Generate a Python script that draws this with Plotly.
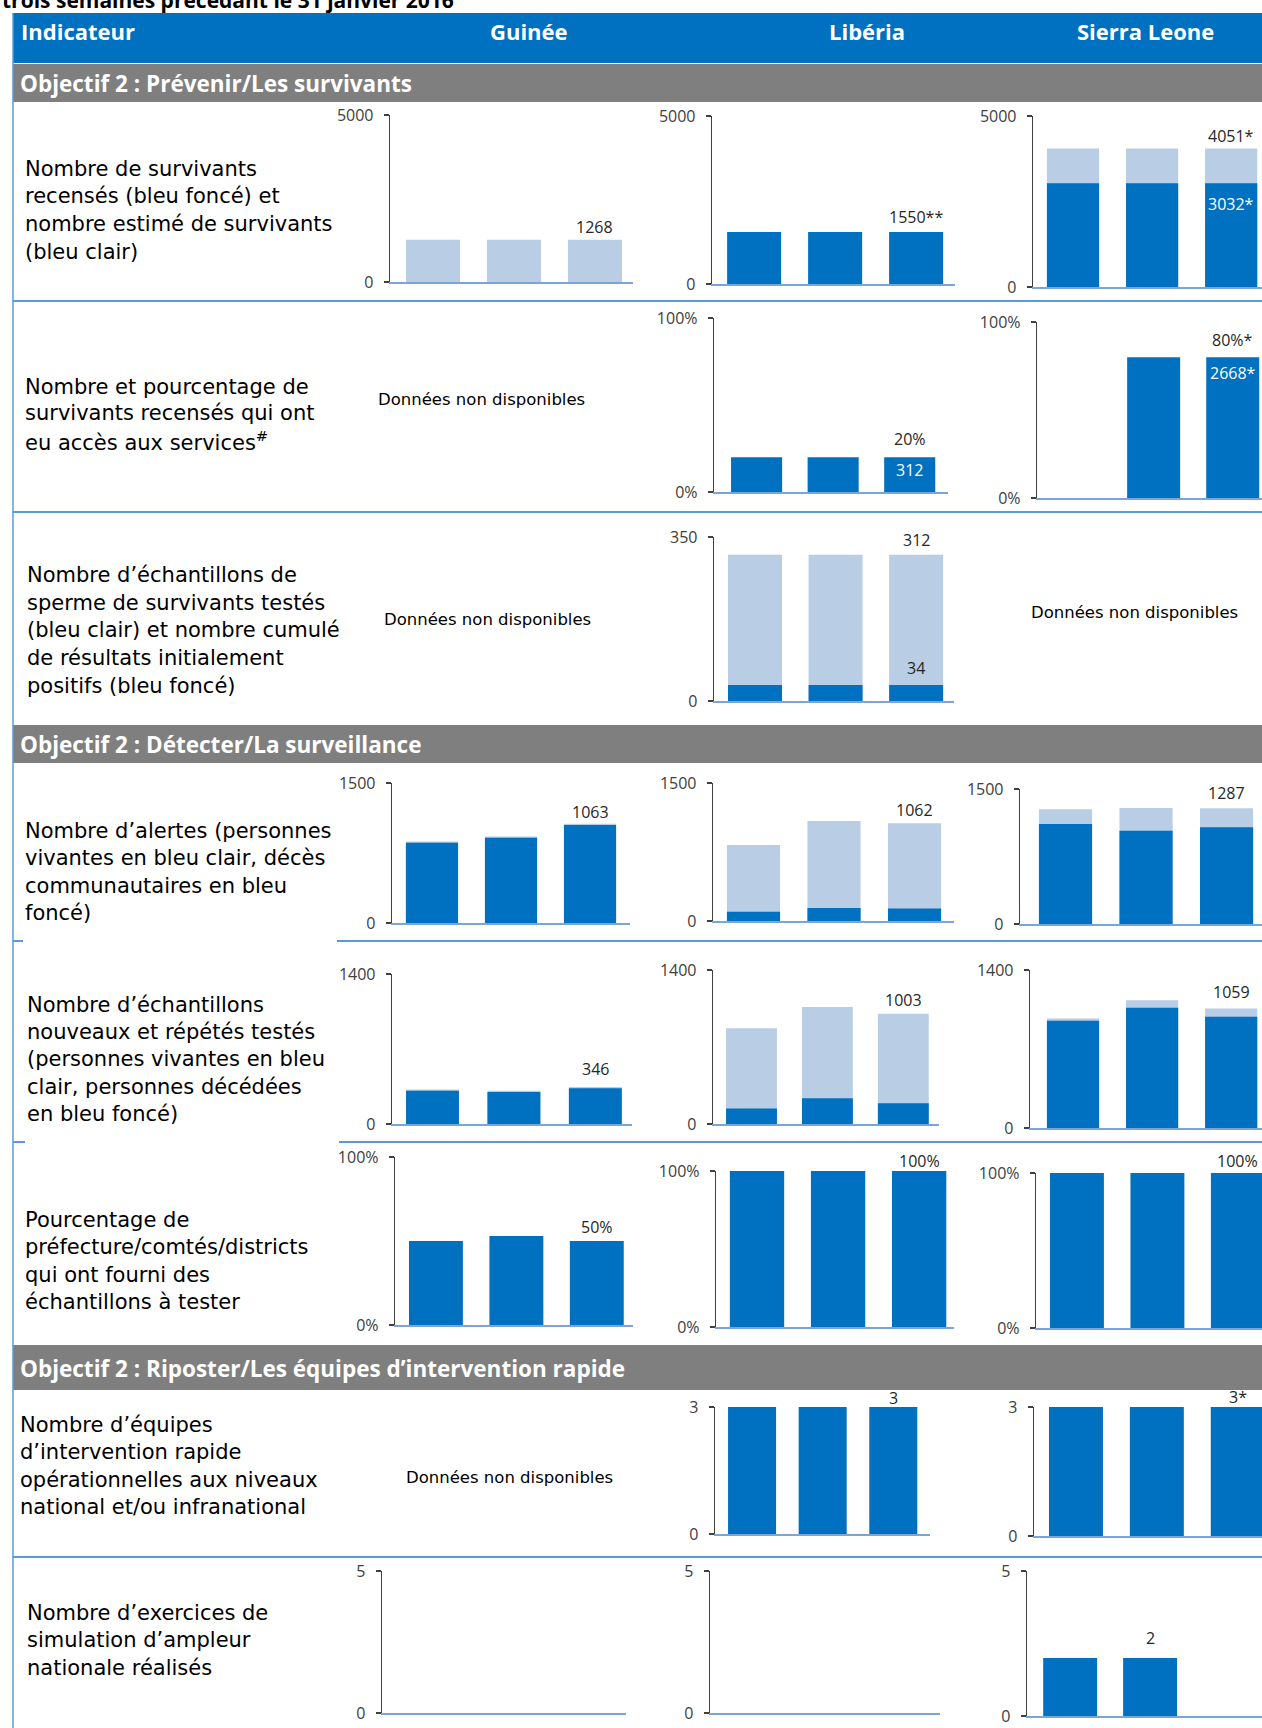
import plotly.graph_objects as go

W, H = 1262, 1728

# ---------------- data ----------------
semaines = ["S1", "S2", "S3"]
pays = ["Guinée", "Libéria", "Sierra Leone"]

# Objectif 2 : Prévenir/Les survivants
surv_estimes_gui = [1268, 1268, 1268]
surv_recenses_lib = [1550, 1550, 1550]
surv_estimes_sl = [4051, 4051, 4051]
surv_recenses_sl = [3032, 3032, 3032]

acces_pct_lib = [20, 20, 20]
acces_nombre_lib = 312
acces_pct_sl = [None, 80, 80]
acces_nombre_sl = 2668

sperme_testes_lib = [312, 312, 312]
sperme_positifs_lib = [34, 34, 34]

# Objectif 2 : Détecter/La surveillance
alertes_total_gui = [873, 926, 1063]
alertes_deces_gui = [861, 914, 1050]
alertes_total_lib = [826, 1087, 1062]
alertes_deces_lib = [100, 140, 135]
alertes_total_sl = [1275, 1289, 1287]
alertes_deces_sl = [1110, 1035, 1075]

echant_total_gui = [323, 311, 346]
echant_deces_gui = [311, 299, 334]
echant_total_lib = [870, 1063, 1003]
echant_deces_lib = [140, 235, 188]
echant_total_sl = [971, 1132, 1059]
echant_deces_sl = [951, 1065, 986]

districts_pct_gui = [50, 53, 50]
districts_pct_lib = [100, 100, 100]
districts_pct_sl = [100, 100, 100]

# Objectif 2 : Riposter/Les équipes d'intervention rapide
equipes_lib = [3, 3, 3]
equipes_sl = [3, 3, 3]

simulation_gui = [None, None, None]
simulation_lib = [None, None, None]
simulation_sl = [2, 2, None]

# axis maxima and tick labels
ymax_surv, ticks_surv = 5000, ["0", "5000"]
ymax_pct, ticks_pct = 100, ["0%", "100%"]
ymax_sperme, ticks_sperme = 350, ["0", "350"]
ymax_alertes, ticks_alertes = 1500, ["0", "1500"]
ymax_echant, ticks_echant = 1400, ["0", "1400"]
ymax_equipes, ticks_equipes = 3, ["0", "3"]
ymax_simul, ticks_simul = 5, ["0", "5"]

# ---------------- styles ----------------
DARK = "#0070C0"
LIGHT = "#B9CDE5"
XLINE = "#7BA4D8"
YLINE = "#404040"
SEP = "#5B9BD5"
TICKFONT = "Open Sans"
LABFONT = "DejaVu Sans"

def py(p):
    return 1 - p / H

def px(p):
    return p / W

# chart layout specs (pixel geometry only)
charts = [
    # row 1
    dict(A=390, E=633, top=115, zero=282, r=(-0.531, 2.47), w=0.667, ymax=ymax_surv, tt=ticks_surv,
         bars=[(surv_estimes_gui, LIGHT)],
         labels=[(2, surv_estimes_gui[2], f"{surv_estimes_gui[2]}", "above", 13)]),
    dict(A=712, E=955, top=116, zero=284, r=(-0.52, 2.48), w=0.667, ymax=ymax_surv, tt=ticks_surv,
         bars=[(surv_recenses_lib, DARK)],
         labels=[(2, surv_recenses_lib[2], f"{surv_recenses_lib[2]}**", "above", 15)]),
    dict(A=1033, E=1262, top=116, zero=287, r=(-0.506, 2.39), w=0.66, ymax=ymax_surv, tt=ticks_surv,
         bars=[(surv_estimes_sl, LIGHT), (surv_recenses_sl, DARK)],
         labels=[(2, surv_estimes_sl[2], f"{surv_estimes_sl[2]}*", "above", 12),
                 (2, surv_recenses_sl[2], f"{surv_recenses_sl[2]}*", "inside", 21)]),
    # row 2
    dict(A=714, E=948, top=318, zero=492, r=(-0.556, 2.50), w=0.667, ymax=ymax_pct, tt=ticks_pct,
         bars=[(acces_pct_lib, DARK)],
         labels=[(2, acces_pct_lib[2], f"{acces_pct_lib[2]}%", "above", 18),
                 (2, acces_pct_lib[2], f"{acces_nombre_lib}", "inside", 13)]),
    dict(A=1037, E=1262, top=322, zero=498, r=(-0.475, 2.37), w=0.67, ymax=ymax_pct, tt=ticks_pct,
         bars=[(acces_pct_sl, DARK)],
         labels=[(2, acces_pct_sl[2], f"{acces_pct_sl[2]}%*", "above", 17),
                 (2, acces_pct_sl[2], f"{acces_nombre_sl}*", "inside", 16)]),
    # row 3
    dict(A=714, E=954, top=537, zero=701, r=(-0.509, 2.47), w=0.67, ymax=ymax_sperme, tt=ticks_sperme,
         bars=[(sperme_testes_lib, LIGHT), (sperme_positifs_lib, DARK)],
         labels=[(2, sperme_testes_lib[2], f"{sperme_testes_lib[2]}", "above", 15),
                 (2, sperme_positifs_lib[2], f"{sperme_positifs_lib[2]}", "above", 17)]),
    # row 4
    dict(A=392, E=630, top=783, zero=923, r=(-0.506, 2.506), w=0.66, ymax=ymax_alertes, tt=ticks_alertes,
         bars=[(alertes_total_gui, LIGHT), (alertes_deces_gui, DARK)],
         labels=[(2, alertes_total_gui[2], f"{alertes_total_gui[2]}", "above", 12)]),
    dict(A=713, E=954, top=783, zero=921, r=(-0.503, 2.49), w=0.66, ymax=ymax_alertes, tt=ticks_alertes,
         bars=[(alertes_total_lib, LIGHT), (alertes_deces_lib, DARK)],
         labels=[(2, alertes_total_lib[2], f"{alertes_total_lib[2]}", "above", 13)]),
    dict(A=1020, E=1262, top=789, zero=924, r=(-0.565, 2.44), w=0.66, ymax=ymax_alertes, tt=ticks_alertes,
         bars=[(alertes_total_sl, LIGHT), (alertes_deces_sl, DARK)],
         labels=[(2, alertes_total_sl[2], f"{alertes_total_sl[2]}", "above", 15)]),
    # row 5
    dict(A=392, E=632, top=974, zero=1124, r=(-0.497, 2.45), w=0.65, ymax=ymax_echant, tt=ticks_echant,
         bars=[(echant_total_gui, LIGHT), (echant_deces_gui, DARK)],
         labels=[(2, echant_total_gui[2], f"{echant_total_gui[2]}", "above", 18)]),
    dict(A=713, E=939, top=970, zero=1124, r=(-0.507, 2.47), w=0.67, ymax=ymax_echant, tt=ticks_echant,
         bars=[(echant_total_lib, LIGHT), (echant_deces_lib, DARK)],
         labels=[(2, echant_total_lib[2], f"{echant_total_lib[2]}", "above", 14)]),
    dict(A=1030, E=1262, top=970, zero=1128, r=(-0.544, 2.39), w=0.66, ymax=ymax_echant, tt=ticks_echant,
         bars=[(echant_total_sl, LIGHT), (echant_deces_sl, DARK)],
         labels=[(2, echant_total_sl[2], f"{echant_total_sl[2]}", "above", 16)]),
    # row 6
    dict(A=395, E=633, top=1157, zero=1325, r=(-0.509, 2.45), w=0.67, ymax=ymax_pct, tt=ticks_pct,
         bars=[(districts_pct_gui, DARK)],
         labels=[(2, districts_pct_gui[2], f"{districts_pct_gui[2]}%", "above", 14)]),
    dict(A=716, E=954, top=1171, zero=1327, r=(-0.506, 2.43), w=0.67, ymax=ymax_pct, tt=ticks_pct,
         bars=[(districts_pct_lib, DARK)],
         labels=[(2, districts_pct_lib[2], f"{districts_pct_lib[2]}%", "above", 10)]),
    dict(A=1036, E=1262, top=1173, zero=1328, r=(-0.509, 2.30), w=0.67, ymax=ymax_pct, tt=ticks_pct,
         bars=[(districts_pct_sl, DARK)],
         labels=[(2, districts_pct_sl[2], f"{districts_pct_sl[2]}%", "above", 12)]),
    # row 7
    dict(A=715, E=930, top=1407, zero=1534, r=(-0.525, 2.52), w=0.68, ymax=ymax_equipes, tt=ticks_equipes,
         bars=[(equipes_lib, DARK)],
         labels=[(2, equipes_lib[2], f"{equipes_lib[2]}", "above", 9)]),
    dict(A=1034, E=1262, top=1407, zero=1536, r=(-0.519, 2.30), w=0.667, ymax=ymax_equipes, tt=ticks_equipes,
         bars=[(equipes_sl, DARK)],
         labels=[(2, equipes_sl[2], f"{equipes_sl[2]}*", "above", 10)]),
    # row 8
    dict(A=382, E=626, top=1571, zero=1713, r=(-0.5, 2.5), w=0.66, ymax=ymax_simul, tt=ticks_simul,
         bars=[(simulation_gui, DARK)], labels=[]),
    dict(A=710, E=940, top=1571, zero=1713, r=(-0.5, 2.5), w=0.66, ymax=ymax_simul, tt=ticks_simul,
         bars=[(simulation_lib, DARK)], labels=[]),
    dict(A=1027, E=1262, top=1571, zero=1716, r=(-0.54, 2.40), w=0.675, ymax=ymax_simul, tt=ticks_simul,
         bars=[(simulation_sl, DARK)],
         labels=[(1, simulation_sl[1], f"{simulation_sl[1]}", "above", 20)]),
]

fig = go.Figure()
axes = {}
annotations = []

for i, c in enumerate(charts, start=1):
    s = "" if i == 1 else str(i)
    xn, yn = "x" + s, "y" + s
    for vals, col in c["bars"]:
        fig.add_trace(go.Bar(x=semaines, y=vals, width=c["w"], xaxis=xn, yaxis=yn,
                             marker=dict(color=col, line=dict(width=0)), hoverinfo="skip"))
    axes["xaxis" + s] = dict(domain=[px(c["A"]), min(px(c["E"]), 1.0)], range=list(c["r"]),
                             type="category", categoryorder="array", categoryarray=semaines,
                             anchor=yn, showline=True, linecolor=XLINE, linewidth=1.6,
                             showticklabels=False, ticks="", showgrid=False, zeroline=False,
                             fixedrange=True)
    axes["yaxis" + s] = dict(domain=[py(c["zero"]), py(c["top"])], range=[0, c["ymax"]],
                             anchor=xn, tickmode="array", tickvals=[0, c["ymax"]], ticktext=c["tt"],
                             ticks="outside", ticklen=5, tickwidth=1.3, tickcolor=YLINE,
                             showline=True, linecolor=YLINE, linewidth=1.3, showgrid=False,
                             zeroline=False, ticklabelstandoff=7, fixedrange=True,
                             tickfont=dict(family=TICKFONT, size=16, color="#404040"))
    for idx, yv, txt, kind, d in c["labels"]:
        inside = kind == "inside"
        annotations.append(dict(xref=xn, yref=yn, x=semaines[idx], y=yv, text=txt,
                                showarrow=False, xanchor="center", yanchor="middle",
                                yshift=-d if inside else d,
                                font=dict(family=TICKFONT, size=16,
                                          color="white" if inside else "#262626")))

# ---------- table frame ----------
shapes = []
shapes.append(dict(type="rect", xref="paper", yref="paper", x0=px(13), x1=1, y0=py(63), y1=py(13),
                   fillcolor="#0070C0", line=dict(width=0), layer="below"))
for top, bot in [(64, 102), (725, 763), (1345, 1390)]:
    shapes.append(dict(type="rect", xref="paper", yref="paper", x0=px(13), x1=1, y0=py(bot), y1=py(top),
                       fillcolor="#7F7F7F", line=dict(width=0), layer="below"))
for y, segs in [(301, [(13, 1262)]), (512, [(13, 1262)]), (941, [(13, 23), (337, 1262)]),
                (1142, [(13, 25), (339, 1262)]), (1557, [(13, 1262)])]:
    for a, b in segs:
        shapes.append(dict(type="line", xref="paper", yref="paper", x0=px(a), x1=px(b), y0=py(y), y1=py(y),
                           line=dict(color=SEP, width=2)))
shapes.append(dict(type="line", xref="paper", yref="paper", x0=px(13), x1=px(13), y0=0, y1=py(13),
                   line=dict(color=SEP, width=1.5)))

def pa(x, y, text, size, color="black", family=LABFONT, xanchor="left"):
    annotations.append(dict(xref="paper", yref="paper", x=px(x), y=py(y), text=text, showarrow=False,
                            xanchor=xanchor, yanchor="middle", align="left",
                            font=dict(family=family, size=size, color=color)))

# page title fragment (cut off at top, as in the source page)
pa(0, 0, "<b>trois semaines précédant le 31 janvier 2016</b>", 21, family="Open Sans")

# header
pa(19, 31, "<b>Indicateur</b>", 22, "white", "Open Sans")
for name, cx in zip(pays, [529, 867, 1145]):
    pa(cx, 31, f"<b>{name}</b>", 22, "white", "Open Sans", "center")

# sections
sections = ["Objectif 2 : Prévenir/Les survivants",
            "Objectif 2 : Détecter/La surveillance",
            "Objectif 2 : Riposter/Les équipes d’intervention rapide"]
for t, y in zip(sections, [83, 744, 1368]):
    pa(18, y, f"<b>{t}</b>", 22.5, "white", "Open Sans")

# indicator labels
indicateurs = [
    (23, [169, 196, 224, 252], ["Nombre de survivants", "recensés (bleu foncé) et",
                                "nombre estimé de survivants", "(bleu clair)"]),
    (23, [387, 413, 441], ["Nombre et pourcentage de", "survivants recensés qui ont",
                           "eu accès aux services<sup>#</sup>"]),
    (25, [575, 603, 630, 658, 686], ["Nombre d’échantillons de", "sperme de survivants testés",
                                     "(bleu clair) et nombre cumulé", "de résultats initialement",
                                     "positifs (bleu foncé)"]),
    (23, [831, 858, 886, 913], ["Nombre d’alertes (personnes", "vivantes en bleu clair, décès",
                                "communautaires en bleu", "foncé)"]),
    (25, [1005, 1032, 1059, 1087, 1114], ["Nombre d’échantillons", "nouveaux et répétés testés",
                                          "(personnes vivantes en bleu", "clair, personnes décédées",
                                          "en bleu foncé)"]),
    (23, [1220, 1247, 1275, 1302], ["Pourcentage de", "préfecture/comtés/districts",
                                    "qui ont fourni des", "échantillons à tester"]),
    (18, [1425, 1452, 1480, 1507], ["Nombre d’équipes", "d’intervention rapide",
                                    "opérationnelles aux niveaux", "national et/ou infranational"]),
    (25, [1613, 1640, 1668], ["Nombre d’exercices de", "simulation d’ampleur", "nationale réalisés"]),
]
for x, ys, lines in indicateurs:
    for y, t in zip(ys, lines):
        pa(x, y, t, 21)

# no-data notes
nd = "Données non disponibles"
for cx, cy in [(481, 399), (487, 619), (1134, 612), (509, 1477)]:
    pa(cx, cy, nd, 16.5, xanchor="center")

fig.update_layout(width=W, height=H, margin=dict(l=0, r=0, t=0, b=0, autoexpand=False),
                  barmode="overlay", paper_bgcolor="white", plot_bgcolor="white", showlegend=False,
                  shapes=shapes, annotations=annotations, **axes)

fig.write_html("out.html", config={"displayModeBar": False, "staticPlot": True},
               post_script="document.body.style.margin='0';document.body.style.overflow='hidden';")
